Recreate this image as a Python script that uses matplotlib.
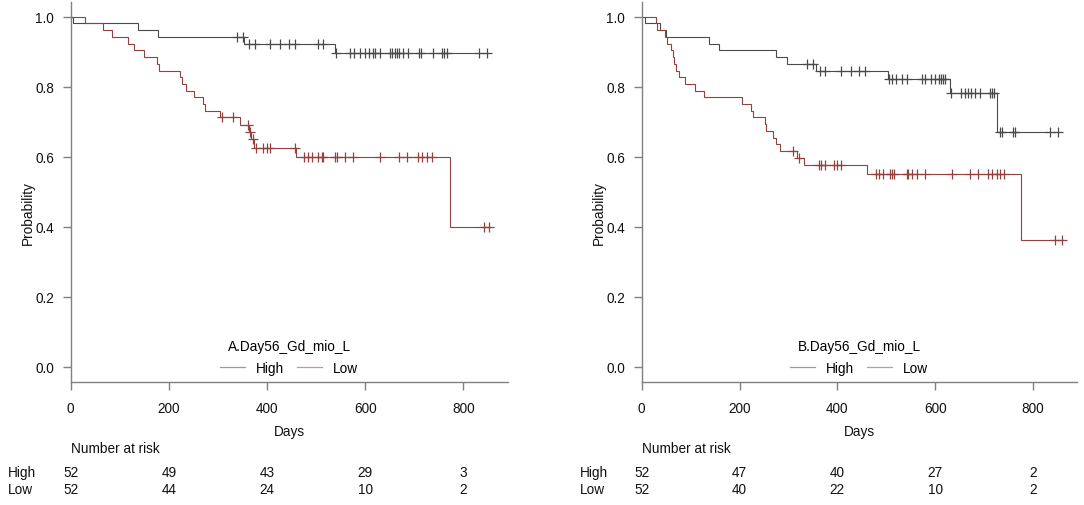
import numpy as np
import matplotlib
matplotlib.use("Agg")
import matplotlib.pyplot as plt
import matplotlib.transforms as mtransforms

plt.rcParams['font.family'] = ['Liberation Sans', 'DejaVu Sans']

# ---------------- data ----------------
# Panel A
A_title = "A.Day56_Gd_mio_L"
A_high_event_days = [5, 138, 177, 352, 538]
A_high_surv = [0.981, 0.962, 0.942, 0.922, 0.896]
A_high_censor_days = [338, 350, 364, 375, 405, 426, 445, 457, 503, 514, 540, 569, 577,
                      589, 600, 607, 616, 619, 629, 650, 654, 660, 664, 668, 677, 687,
                      709, 714, 737, 756, 760, 766, 831, 847]
A_low_event_days = [29, 65, 85, 116, 129, 149, 175, 180, 223, 226, 235, 252, 270, 274,
                    304, 345, 364, 368, 374, 458, 772]
A_low_surv = [0.981, 0.962, 0.942, 0.923, 0.904, 0.885, 0.865, 0.846, 0.827, 0.808,
              0.788, 0.769, 0.750, 0.731, 0.712, 0.691, 0.670, 0.649, 0.626, 0.600, 0.400]
A_low_censor_days = [309, 330, 362, 366, 371, 378, 392, 399, 405, 457, 476, 484, 491,
                     504, 511, 513, 539, 542, 559, 576, 630, 668, 685, 707, 716, 725,
                     736, 842, 852]
A_risk_high = [52, 49, 43, 29, 3]
A_risk_low = [52, 44, 24, 10, 2]

# Panel B
B_title = "B.Day56_Gd_mio_L"
B_high_event_days = [7, 37, 50, 138, 159, 274, 297, 356, 503, 631, 726]
B_high_surv = [0.981, 0.962, 0.942, 0.923, 0.904, 0.885, 0.865, 0.845, 0.822, 0.783, 0.671]
B_high_censor_days = [339, 351, 365, 375, 407, 427, 445, 457, 505, 512, 521, 532, 542,
                      573, 579, 592, 600, 607, 613, 617, 620, 632, 652, 662, 667, 674,
                      682, 692, 712, 716, 720, 733, 737, 760, 764, 834, 851]
B_low_event_days = [29, 31, 48, 51, 59, 63, 67, 70, 77, 89, 110, 127, 206, 224, 227,
                    252, 254, 269, 275, 282, 317, 332, 460, 775]
B_low_surv = [0.981, 0.962, 0.942, 0.923, 0.904, 0.885, 0.865, 0.846, 0.827, 0.808,
              0.788, 0.769, 0.750, 0.731, 0.712, 0.692, 0.673, 0.654, 0.635, 0.615,
              0.596, 0.575, 0.549, 0.363]
B_low_censor_days = [310, 322, 363, 366, 374, 394, 400, 407, 479, 486, 494, 508, 512,
                     515, 542, 545, 552, 562, 579, 634, 671, 688, 709, 716, 726, 733,
                     741, 845, 859]
B_risk_high = [52, 47, 40, 27, 2]
B_risk_low = [52, 40, 22, 10, 2]

group_names = ["High", "Low"]
risk_days = [0, 200, 400, 600, 800]
x_ticks = [0, 200, 400, 600, 800]
y_ticks = [0.0, 0.2, 0.4, 0.6, 0.8, 1.0]

# ---------------- style ----------------
W, H = 1084, 506
FS = 9.8
col_high = "#4a4a4a"
col_low = "#94403f"
axis_col = "#808080"
txt_col = "#111111"

fig = plt.figure(figsize=(W / 100, H / 100), dpi=100)


def km_curve(ax, event_days, surv, censor_days, color):
    last = max(censor_days[-1], event_days[-1])
    t = np.array([0] + list(event_days) + [last], dtype=float)
    s = np.array([1.0] + list(surv) + [surv[-1]], dtype=float)
    ax.step(t, s, where="post", color=color, lw=0.8, solid_joinstyle="miter")
    c = np.array(censor_days, dtype=float)
    idx = np.searchsorted(t[:-1], c, side="right") - 1
    ax.plot(c, s[idx], ls="none", marker="+", ms=6.5, mew=0.9, color=color)


def panel(ax_left_px, ax_right_px, label_x_px, prob_x_px, title, hi, lo, risk_hi, risk_lo):
    top_px, bot_px = 3.3, 382.7
    ax = fig.add_axes([ax_left_px / W, 1 - bot_px / H,
                       (ax_right_px - ax_left_px) / W, (bot_px - top_px) / H])
    km_curve(ax, *hi, col_high)
    km_curve(ax, *lo, col_low)
    ax.set_xlim(0, 890.7)
    ax.set_ylim(-0.043, 1.041)
    for side in ("top", "right"):
        ax.spines[side].set_visible(False)
    for side in ("left", "bottom"):
        ax.spines[side].set_color(axis_col)
        ax.spines[side].set_linewidth(1.0)
    ax.set_xticks(x_ticks)
    ax.set_yticks(y_ticks)
    ax.set_yticklabels([f"{v:.1f}" for v in y_ticks])
    ax.tick_params(axis="both", colors=axis_col, labelcolor=txt_col,
                   length=6, width=1.0, labelsize=FS)
    ax.tick_params(axis="x", pad=8)
    ax.tick_params(axis="y", pad=6)

    # legend
    handles = [plt.Line2D([], [], color=col_high, lw=0.9, alpha=0.55),
               plt.Line2D([], [], color=col_low, lw=0.9, alpha=0.55)]
    leg = ax.legend(handles, group_names, title=title, ncol=2, frameon=False,
                    loc="center", bbox_to_anchor=(445, 0.028),
                    bbox_transform=ax.transData, fontsize=FS, title_fontsize=FS,
                    handlelength=1.8, handletextpad=0.85, columnspacing=0.95,
                    borderpad=0, labelspacing=0.2)
    leg._legend_box.sep = 6

    blend = mtransforms.blended_transform_factory(ax.transData, fig.transFigure)
    # xlabel
    fig.text((ax_left_px + ax_right_px) / 2 / W, 1 - 432 / H, "Days",
             ha="center", va="center", fontsize=FS, color=txt_col)
    # ylabel
    fig.text(prob_x_px / W, 1 - 213 / H, "Probability", rotation=90,
             ha="center", va="center", fontsize=FS, color=txt_col)
    # risk table
    fig.text(ax_left_px / W, 1 - 449 / H, "Number at risk",
             ha="left", va="center", fontsize=FS, color=txt_col)
    fig.text(label_x_px / W, 1 - 473.3 / H, group_names[0],
             ha="left", va="center", fontsize=FS, color=txt_col)
    fig.text(label_x_px / W, 1 - 490 / H, group_names[1],
             ha="left", va="center", fontsize=FS, color=txt_col)
    for d, nh, nl in zip(risk_days, risk_hi, risk_lo):
        ax.text(d, 1 - 473.3 / H, str(nh), transform=blend, ha="center",
                va="center", fontsize=FS, color=txt_col)
        ax.text(d, 1 - 490 / H, str(nl), transform=blend, ha="center",
                va="center", fontsize=FS, color=txt_col)
    return ax


panel(70.7, 508.0, 8, 28.0, A_title,
      (A_high_event_days, A_high_surv, A_high_censor_days),
      (A_low_event_days, A_low_surv, A_low_censor_days),
      A_risk_high, A_risk_low)
panel(641.7, 1077.3, 580, 599.0, B_title,
      (B_high_event_days, B_high_surv, B_high_censor_days),
      (B_low_event_days, B_low_surv, B_low_censor_days),
      B_risk_high, B_risk_low)

fig.savefig("out.png", dpi=100, facecolor="white")
